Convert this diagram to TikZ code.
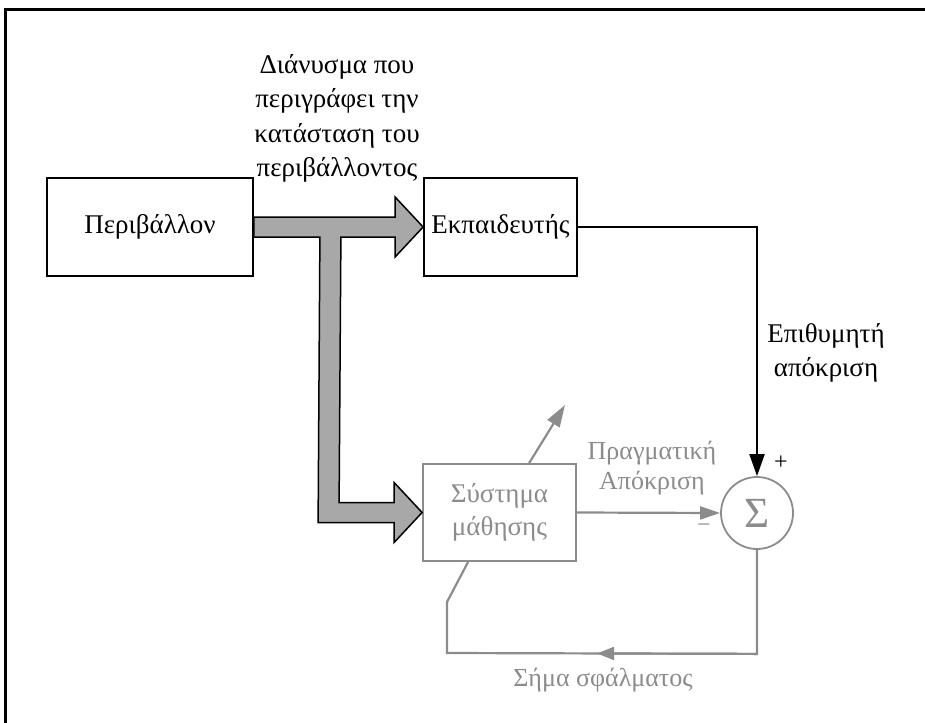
\documentclass[tikz,border=0pt]{standalone}
\usepackage{fontspec}
\setmainfont{Liberation Serif}
\usetikzlibrary{arrows.meta,calc}
\definecolor{lgray}{HTML}{8C8C8C}
\definecolor{bandfill}{HTML}{A8A8A8}
\begin{document}
\begin{tikzpicture}[x=1pt,y=-1pt,
  txt/.style={font=\fontsize{27}{34.3}\selectfont, align=center, inner sep=0pt},
  blockbox/.style={draw, line width=1.8pt, minimum width=#1, inner sep=0pt,
    font=\fontsize{27}{34}\selectfont, align=center},
  graybox/.style={blockbox=#1, draw=lgray, text=lgray},
  sig/.style={line width=2.2pt},
  bigtip/.style={-{Triangle[length=22pt,width=15pt]}},
  midtip/.style={-{Triangle[length=20pt,width=13pt]}}
]
\useasboundingbox (0,0) rectangle (925,722);
\fill[white] (0,0) rectangle (925,722);
% outer frame
\draw[line width=3pt] (5,730) -- (5,10) -- (930,10);

% blocks
\node[blockbox=206pt, minimum height=98pt] (env) at (150,227) {Περιβάλλον};
\node[blockbox=153pt, minimum height=98pt] (teacher) at (500.5,227) {Εκπαιδευτής};
\node[graybox=153pt, minimum height=97pt] (learner) at (499.5,512.5) {Σύστημα\\[-1pt]μάθησης};
\node[draw=lgray, line width=1.8pt, circle, minimum size=72pt, inner sep=0pt,
      text=lgray, font=\fontsize{43}{43}\selectfont] (sum) at (757,513) {Σ};

% broad state-vector arrow feeding teacher and learner
\draw[line width=1.5pt, fill=bandfill, line join=miter]
  ($(env.east)+(0,-10)$) -- ($(teacher.west)+(-28,-10)$) -- ($(teacher.west)+(-28,-30)$)
  -- (teacher.west) -- ($(teacher.west)+(-28,30)$) -- ($(teacher.west)+(-28,10)$)
  -- ($(env.east)+(87,10)$) -- ($(learner.west)+(-83,-10)$)
  -- ($(learner.west)+(-28,-10)$) -- ($(learner.west)+(-28,-30)$)
  -- (learner.west) -- ($(learner.west)+(-28,30)$) -- ($(learner.west)+(-28,10)$)
  -- ($(learner.west)+(-104,10)$) -- ($(env.east)+(66,10)$)
  -- ($(env.east)+(0,10)$) -- cycle;

% desired response
\draw[sig, bigtip] (teacher.east) -| (sum.north);

% actual response
\draw[sig, lgray, midtip] (learner.east) -- (sum.west);

% error signal loop
\coordinate (eR) at ($(sum.south)+(0,104)$);
\coordinate (eL) at (447,653);
\coordinate (eK) at (447,602);
\coordinate (eB) at ($(learner.south west)+(46,0)$);
\draw[sig, lgray, line join=miter] (sum.south) -- (eR) -- (eL) -- (eK) -- (eB);
\draw[sig, lgray, -{Triangle[length=17pt,width=13pt]}] (eR) -- ($(eR)!0.516!(eL)$);

% adjustment arrow through the learner
\coordinate (adjS) at ($(learner.north west)+(107,0)$);
\coordinate (adjE) at (565,405);
\draw[sig, lgray, -{Triangle[length=22pt,width=14pt]}] (adjS) -- (adjE);

% labels
\node[txt] (lstate) at (337,118.5) {Διάνυσμα που\\περιγράφει την\\κατάσταση του\\περιβάλλοντος};
\node[txt] (ldes) at (826,353) {Επιθυμητή\\απόκριση};
\node[txt, text=lgray, font=\fontsize{26}{30}\selectfont] (lact) at (652,468) {Πραγματική\\Απόκριση};
\node[txt, text=lgray, font=\fontsize{26}{30}\selectfont] (lerr) at (603,680) {Σήμα σφάλματος};
\node[txt, font=\fontsize{24}{24}\selectfont] (lplus) at (781,463) {+};
\node[txt, text=lgray, font=\fontsize{24}{24}\selectfont] (lminus) at (704,528) {−};
\end{tikzpicture}
\end{document}
